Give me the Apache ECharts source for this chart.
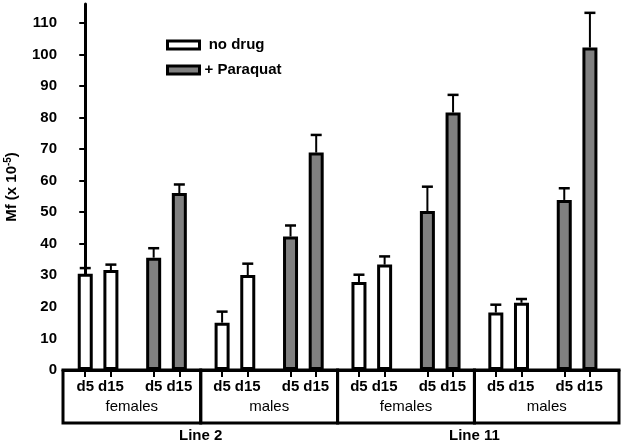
<!DOCTYPE html>
<html><head><meta charset="utf-8">
<script src="https://cdn.jsdelivr.net/npm/echarts@6/dist/echarts.min.js"></script>
<style>html,body{margin:0;padding:0;background:#fff}#c{width:626px;height:445px}</style>
</head><body><div id="c"></div>
<script>
// ---- data ----
const lineNames = ['Line 2', 'Line 11'];
const sexNames = ['females', 'males', 'females', 'males'];
const dayNames = ['d5', 'd15'];
const treatmentNames = ['no drug', '+ Paraquat'];
// order: Line2 females d5,d15 | Line2 males d5,d15 | Line11 females d5,d15 | Line11 males d5,d15
const noDrugMean = [30.5, 31.7, 15.0, 30.1, 27.9, 33.4, 18.2, 21.3];
const noDrugErr  = [1.8, 1.7, 3.5, 3.6, 2.3, 2.6, 2.5, 1.2];
const paraquatMean = [35.6, 56.1, 42.3, 68.9, 50.4, 81.6, 53.9, 102.2];
const paraquatErr  = [3.0, 2.7, 3.5, 5.6, 7.7, 5.6, 3.7, 11.0];
const yTicks = [0, 10, 20, 30, 40, 50, 60, 70, 80, 90, 100, 110];

// ---- layout helpers ----
const FONT = "'Liberation Sans', Arial, Helvetica, sans-serif";
const xMin = -2.6, xMax = 62.4;
function pos(group, treat, day) { return group * 16 + treat * 8 + day * 3; }
const tickPos = [];
const posLabel = {};
for (let g = 0; g < 4; g++) for (let t = 0; t < 2; t++) for (let d = 0; d < 2; d++) {
  const p = pos(g, t, d); tickPos.push(p); posLabel[p] = dayNames[d];
}
const barData = (means, t) => means.map((v, i) => [pos(Math.floor(i / 2), t, i % 2), v]);
const errData = [];
[[noDrugMean, noDrugErr], [paraquatMean, paraquatErr]].forEach(([m, e], t) => {
  m.forEach((v, i) => errData.push([pos(Math.floor(i / 2), t, i % 2), v, e[i]]));
});
const boxData = sexNames.map((s, g) => [g === 0 ? xMin : g * 16 - 2.5, 0, g === 3 ? xMax : g * 16 + 13.5]);

const chart = echarts.init(document.getElementById('c'), null, {renderer: 'canvas'});
chart.setOption({
  animation: false,
  backgroundColor: '#fff',
  textStyle: {fontFamily: FONT},
  grid: {left: 63, right: 7, top: 4, bottom: 75, containLabel: false, outerBoundsMode: 'none'},
  legend: {
    orient: 'vertical', left: 161, top: 32.5, icon: 'rect',
    itemWidth: 32, itemHeight: 8, itemGap: 10,
    itemStyle: {borderColor: '#000', borderWidth: 3},
    data: treatmentNames,
    formatter: n => n === 'no drug' ? ' ' + n : n,
    textStyle: {fontFamily: FONT, fontWeight: 'bold', fontSize: 15, lineHeight: 15, color: '#000'}
  },
  xAxis: {
    type: 'value', min: xMin, max: xMax,
    splitLine: {show: false},
    axisLine: {show: true, lineStyle: {color: '#000', width: 3}},
    axisTick: {show: true, customValues: tickPos, length: 7, lineStyle: {color: '#000', width: 2}},
    axisLabel: {customValues: tickPos, formatter: v => posLabel[v] || '', margin: 9,
      color: '#000', fontFamily: FONT, fontWeight: 'bold', fontSize: 15}
  },
  yAxis: {
    type: 'value', min: 0, max: 116,
    splitLine: {show: false},
    axisLine: {show: true, lineStyle: {color: '#000', width: 3}},
    axisTick: {show: true, customValues: yTicks, length: 6, lineStyle: {color: '#000', width: 2}},
    axisLabel: {customValues: yTicks, margin: 6, color: '#000', fontFamily: FONT, fontWeight: 'bold', fontSize: 15},
    name: '{a|Mf (x 10}{s|-5}{a|)}',
    nameLocation: 'middle', nameGap: 42,
    nameTextStyle: {
      rich: {
        a: {fontFamily: FONT, fontWeight: 'bold', fontSize: 15, color: '#000'},
        s: {fontFamily: FONT, fontWeight: 'bold', fontSize: 10, color: '#000', padding: [0, 0, 8, 0]}
      }
    }
  },
  series: [
    {type: 'bar', name: treatmentNames[0], data: barData(noDrugMean, 0), barWidth: 15, barGap: '-100%',
     itemStyle: {color: '#ffffff', borderColor: '#000', borderWidth: 3}, z: 3},
    {type: 'bar', name: treatmentNames[1], data: barData(paraquatMean, 1), barWidth: 15, barGap: '-100%',
     itemStyle: {color: '#808080', borderColor: '#000', borderWidth: 3}, z: 3},
    {type: 'custom', name: 'err', data: errData, encode: {x: 0, y: 1}, z: 2, silent: true,
     renderItem: (params, api) => {
       const p0 = api.coord([api.value(0), api.value(1)]);
       const p1 = api.coord([api.value(0), api.value(1) + api.value(2)]);
       return {type: 'group', children: [
         {type: 'line', shape: {x1: p0[0], y1: p0[1], x2: p1[0], y2: p1[1]}, style: {stroke: '#000', lineWidth: 2}},
         {type: 'line', shape: {x1: p1[0] - 5.5, y1: p1[1], x2: p1[0] + 5.5, y2: p1[1]}, style: {stroke: '#000', lineWidth: 2.5}}
       ]};
     }},
    {type: 'custom', name: 'groups', data: boxData, encode: {x: [0, 2], y: 1}, clip: false, z: 4, silent: true,
     renderItem: (params, api) => {
       const g = params.dataIndex;
       const a = api.coord([api.value(0), 0]);
       const b = api.coord([api.value(2), 0]);
       const y0 = a[1];
       const children = [
         {type: 'rect', shape: {x: a[0], y: y0, width: b[0] - a[0], height: 53},
          style: {fill: 'none', stroke: '#000', lineWidth: 3}},
         {type: 'text', style: {text: sexNames[g], x: (a[0] + b[0]) / 2, y: y0 + 37, align: 'center', verticalAlign: 'middle',
          font: '15px ' + FONT, fill: '#000'}}
       ];
       if (g % 2 === 0) {
         children.push({type: 'text', style: {text: lineNames[g / 2], x: b[0], y: y0 + 66, align: 'center', verticalAlign: 'middle',
           font: 'bold 15px ' + FONT, fill: '#000'}});
       }
       return {type: 'group', children};
     }}
  ]
});
</script>
</body></html>
